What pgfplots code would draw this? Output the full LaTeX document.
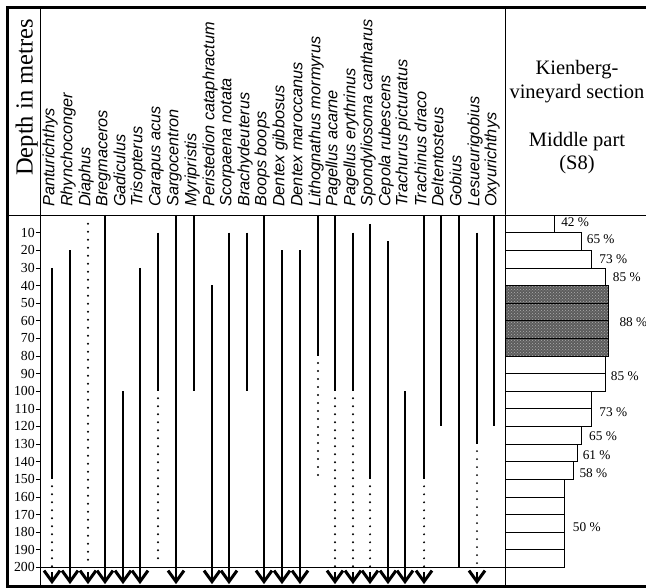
\documentclass[border=0pt]{standalone}
\usepackage{fontspec}
\setmainfont{Liberation Serif}
\setsansfont{Liberation Sans}
\usepackage{pgfplots}
\pgfplotsset{compat=1.18}
\usetikzlibrary{arrows.meta,patterns}

\newcommand{\taxfont}{\fontsize{16.3}{17}\selectfont\sffamily\itshape}
\tikzset{taxon/.style={rotate=90, anchor=mid west, inner sep=0pt, font=\taxfont},
  vtip/.style={-{Straight Barb[length=11pt 0 0, width=16pt 0 0, line width=3pt 0]}}}

\begin{document}
\begin{tikzpicture}
\begin{axis}[
  name=main,
  x=1pt, y=1.762pt,
  xmin=40, xmax=505, ymin=0, ymax=210.56,
  y dir=reverse,
  axis x line=none,
  axis y line*=left,
  axis line style={line width=0.7pt, black},
  ytick={10,20,...,200},
  tick align=outside,
  major tick length=4pt,
  ytick style={line width=0.6pt, black},
  yticklabel style={font=\fontsize{13.8}{14}\selectfont, inner sep=1pt},
  /pgf/number format/assume math mode=true,
  clip=false,
  unbounded coords=jump,
]
% solid ranges
\addplot[line width=2pt, black] coordinates {
(52,30)(52,150)(52,nan)
(70,20)(70,200)(70,nan)
(105,0)(105,200)(105,nan)
(123,100)(123,200)(123,nan)
(140,30)(140,200)(140,nan)
(158,10)(158,100)(158,nan)
(176,0)(176,200)(176,nan)
(194,0)(194,100)(194,nan)
(212,40)(212,200)(212,nan)
(229,10)(229,200)(229,nan)
(247,10)(247,100)(247,nan)
(264,0)(264,200)(264,nan)
(282,20)(282,200)(282,nan)
(300,20)(300,200)(300,nan)
(318,0)(318,80)(318,nan)
(335,0)(335,100)(335,nan)
(353,10)(353,100)(353,nan)
(370,5)(370,150)(370,nan)
(388,15)(388,200)(388,nan)
(405,100)(405,200)(405,nan)
(424,0)(424,150)(424,nan)
(441,0)(441,120)(441,nan)
(459,0)(459,200)(459,nan)
(477,10)(477,130)(477,nan)
(494,0)(494,120)
};
% dotted ranges
\addplot[line width=2.2pt, black, line cap=round, dash pattern=on 0pt off 8pt] coordinates {
(52,154)(52,200)(52,nan)
(88,5)(88,200)(88,nan)
(158,104)(158,198)(158,nan)
(318,84)(318,150)(318,nan)
(335,104)(335,200)(335,nan)
(353,104)(353,200)(353,nan)
(370,154)(370,200)(370,nan)
(424,154)(424,200)(424,nan)
(477,134)(477,200)
};
% arrows (range continues deeper)
\addplot[line width=2pt, black, vtip, quiver={u=0, v=10.5}] coordinates {
(70,199)(105,199)(123,199)(140,199)(176,199)(212,199)
(229,199)(264,199)(282,199)(300,199)(388,199)(405,199)};
\addplot[line width=2pt, black, vtip, quiver={u=0, v=7}] coordinates {
(52,202.5)(88,202.5)(335,202.5)(353,202.5)(370,202.5)(424,202.5)(477,202.5)};

% frame and dividers
\draw[line width=0.8pt] (axis cs:8,0) -- (axis cs:646,0);
\draw[line width=0.8pt] (axis cs:40,200) -- (axis cs:505,200);
\draw[line width=0.8pt] (axis cs:40,-117.48) -- (axis cs:40,210.56);
\draw[line width=0.8pt] (axis cs:505,-117.48) -- (axis cs:505,210.56);
\draw[line width=3pt] (axis cs:646,-117.48) -- (axis cs:8,-117.48) -- (axis cs:8,210.56) -- (axis cs:646,210.56);

\node[rotate=90, anchor=base, font=\fontsize{24.5}{26}\selectfont] at (axis cs:32.5,-66.7) {Depth in metres};

\node[taxon] at (axis cs:52,-4.5) {Panturichthys};
\node[taxon] at (axis cs:70,-4.5) {Rhynchoconger};
\node[taxon] at (axis cs:88,-4.5) {Diaphus};
\node[taxon] at (axis cs:105,-4.5) {Bregmaceros};
\node[taxon] at (axis cs:123,-4.5) {Gadiculus};
\node[taxon] at (axis cs:140,-4.5) {Trisopterus};
\node[taxon] at (axis cs:158,-4.5) {Carapus acus};
\node[taxon] at (axis cs:176,-4.5) {Sargocentron};
\node[taxon] at (axis cs:194,-4.5) {Myripristis};
\node[taxon] at (axis cs:212,-4.5) {Peristedion cataphractum};
\node[taxon] at (axis cs:229,-4.5) {Scorpaena notata};
\node[taxon] at (axis cs:247,-4.5) {Brachydeuterus};
\node[taxon] at (axis cs:264,-4.5) {Boops boops};
\node[taxon] at (axis cs:282,-4.5) {Dentex gibbosus};
\node[taxon] at (axis cs:300,-4.5) {Dentex maroccanus};
\node[taxon] at (axis cs:318,-4.5) {Lithognathus mormyrus};
\node[taxon] at (axis cs:335,-4.5) {Pagellus acarne};
\node[taxon] at (axis cs:353,-4.5) {Pagellus erythrinus};
\node[taxon] at (axis cs:370,-4.5) {Spondyliosoma cantharus};
\node[taxon] at (axis cs:388,-4.5) {Cepola rubescens};
\node[taxon] at (axis cs:405,-4.5) {Trachurus picturatus};
\node[taxon] at (axis cs:424,-4.5) {Trachinus draco};
\node[taxon] at (axis cs:441,-4.5) {Deltentosteus};
\node[taxon] at (axis cs:459,-4.5) {Gobius};
\node[taxon] at (axis cs:477,-4.5) {Lesueurigobius};
\node[taxon] at (axis cs:494,-4.5) {Oxyurichthys};

\coordinate (bbA) at (axis cs:0,-122.02);
\coordinate (bbB) at (axis cs:646,211.69);
\end{axis}

\begin{axis}[
  at={(main.north east)}, anchor=north west,
  x=1.18pt, y=1.762pt,
  xmin=0, xmax=119.5, ymin=0, ymax=210.56,
  y dir=reverse,
  hide axis, clip=false,
]
\addplot[xbar, bar width=10, bar shift=0pt, fill=white, draw=black, line width=0.7pt] coordinates {
(42,5)(65,15)(73,25)(85,35)(85,85)(85,95)(73,105)(73,115)(65,125)(61,135)(58,145)
(50,155)(50,165)(50,175)(50,185)(50,195)};
\addplot[xbar, bar width=10, bar shift=0pt, fill=black!64, draw=black, line width=0.9pt,
  postaction={pattern=crosshatch dots, pattern color=black!32}] coordinates {
(88,45)(88,55)(88,65)(88,75)};

\begin{scope}[font=\fontsize{20.5}{22}\selectfont]
\node[anchor=base] at (axis cs:61,-79.5) {Kienberg-};
\node[anchor=base] at (axis cs:61,-66.4) {vineyard section};
\node[anchor=base] at (axis cs:61,-38.6) {Middle part};
\node[anchor=base] at (axis cs:61,-26.1) {(S8)};
\end{scope}

\begin{scope}[font=\fontsize{13.3}{14}\selectfont]
\node[anchor=west, inner sep=0pt] at (axis cs:47.5,4) {42 \%};
\node[anchor=west, inner sep=0pt] at (axis cs:69.2,13.5) {65 \%};
\node[anchor=west, inner sep=0pt] at (axis cs:79.9,25) {73 \%};
\node[anchor=west, inner sep=0pt] at (axis cs:91.3,35.4) {85 \%};
\node[anchor=west, inner sep=0pt] at (axis cs:96.9,61) {88 \%};
\node[anchor=west, inner sep=0pt] at (axis cs:89.6,91.4) {85 \%};
\node[anchor=west, inner sep=0pt] at (axis cs:79.9,112) {73 \%};
\node[anchor=west, inner sep=0pt] at (axis cs:71.2,125.4) {65 \%};
\node[anchor=west, inner sep=0pt] at (axis cs:65.8,136.2) {61 \%};
\node[anchor=west, inner sep=0pt] at (axis cs:63,146.6) {58 \%};
\node[anchor=west, inner sep=0pt] at (axis cs:57.4,177) {50 \%};
\end{scope}
\end{axis}
\pgfresetboundingbox
\path (bbA) rectangle (bbB);
\end{tikzpicture}
\end{document}
